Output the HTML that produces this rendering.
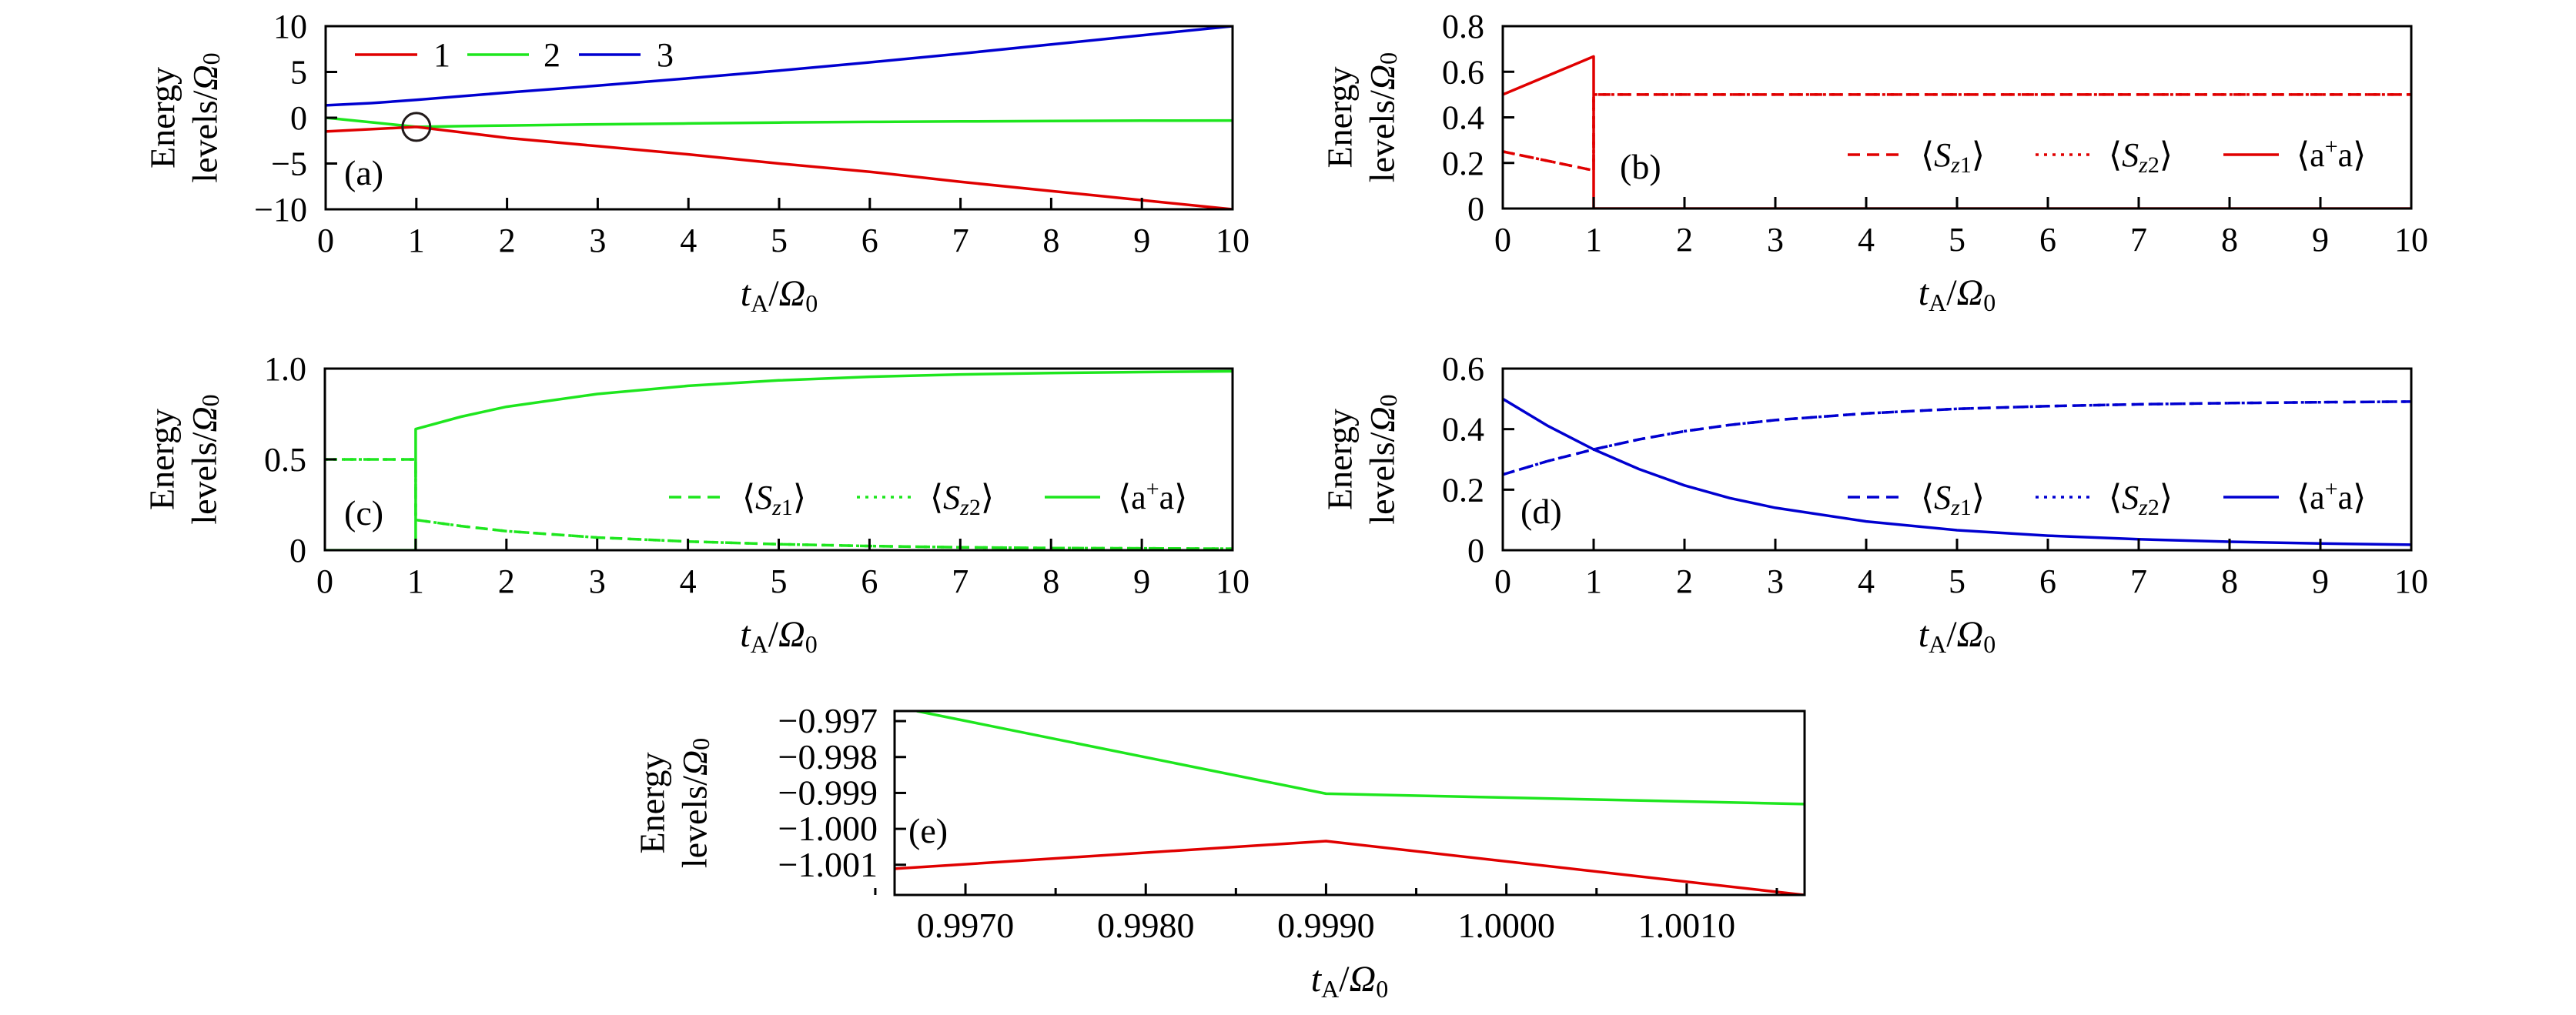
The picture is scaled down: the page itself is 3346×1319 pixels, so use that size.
<!DOCTYPE html>
<html>
<head>
<meta charset="utf-8">
<style>
  html,body{margin:0;padding:0;background:#fff;}
  svg{display:block;}
  text{font-family:"Liberation Serif","DejaVu Serif",serif;fill:#000;}
</style>
</head>
<body>
<svg id="fig" width="3346" height="1319" viewBox="0 0 3346 1319" xmlns="http://www.w3.org/2000/svg"></svg>
<script>
// ---------- Panel (a) data ----------
const aT  = [0, 0.5, 1, 1.5, 2, 3, 4, 5, 6, 7, 8, 9, 10];
const aE1 = [-1.5, -1.25, -1.0, -1.6, -2.2, -3.1, -4.0, -5.0, -5.9, -7.0, -8.0, -9.0, -10.0];
const aE2 = [0, -0.5, -1.0, -0.92, -0.85, -0.72, -0.62, -0.52, -0.45, -0.4, -0.36, -0.32, -0.3];
const aE3 = [1.35, 1.6, 1.95, 2.35, 2.75, 3.5, 4.3, 5.15, 6.05, 7.0, 8.0, 9.0, 10.0];
const aYTicks = [-10, -5, 0, 5, 10];
const aYLabels = ["\u221210", "\u22125", "0", "5", "10"];
// ---------- Panel (b) data ----------
const bT   = [0, 1, 1, 10];
const bAA  = [0.5, 0.667, 0, 0];
const bSz  = [0.25, 0.167, 0.5, 0.5];
const bYTicks = [0, 0.2, 0.4, 0.6, 0.8];
const bYLabels = ["0", "0.2", "0.4", "0.6", "0.8"];
// ---------- Panel (c) data ----------
const cT   = [0, 1, 1, 1.5, 2, 3, 4, 5, 6, 7, 8, 9, 10];
const cAA  = [0, 0, 0.667, 0.735, 0.79, 0.86, 0.905, 0.935, 0.955, 0.968, 0.976, 0.981, 0.985];
const cSz  = [0.5, 0.5, 0.167, 0.133, 0.105, 0.07, 0.048, 0.033, 0.023, 0.016, 0.012, 0.01, 0.008];
const cYTicks = [0, 0.5, 1.0];
const cYLabels = ["0", "0.5", "1.0"];
// ---------- Panel (d) data ----------
const dT   = [0, 0.5, 1, 1.5, 2, 2.5, 3, 4, 5, 6, 7, 8, 9, 10];
const dAA  = [0.5, 0.41, 0.333, 0.268, 0.214, 0.172, 0.14, 0.095, 0.066, 0.048, 0.036, 0.028, 0.022, 0.018];
const dSz  = [0.25, 0.295, 0.333, 0.366, 0.393, 0.414, 0.43, 0.452, 0.467, 0.476, 0.482, 0.486, 0.489, 0.491];
const dYTicks = [0, 0.2, 0.4, 0.6];
const dYLabels = ["0", "0.2", "0.4", "0.6"];
// ---------- Panel (e) data ----------
const eTGreen = [0.99673, 0.9990, 1.00165];
const eGreen  = [-0.99672, -0.99902, -0.99931];
const eTRed   = [0.99661, 0.9990, 1.00165];
const eRed    = [-1.00111, -1.00034, -1.00184];
const eXTicks = [0.997, 0.998, 0.999, 1.000, 1.001];
const eXLabels = ["0.9970", "0.9980", "0.9990", "1.0000", "1.0010"];
const eXMinor = [0.9965, 0.9975, 0.9985, 0.9995, 1.0005, 1.0015];
const eYTicks = [-0.997, -0.998, -0.999, -1.000, -1.001];
const eYLabels = ["\u22120.997", "\u22120.998", "\u22120.999", "\u22121.000", "\u22121.001"];
const tTicks = [0, 1, 2, 3, 4, 5, 6, 7, 8, 9, 10];
const tLabels = ["0","1","2","3","4","5","6","7","8","9","10"];

const RED = "#e00000", GREEN = "#1ee61e", BLUE = "#0000d0";
const NS = "http://www.w3.org/2000/svg";
const svg = document.getElementById("fig");

function mk(tag, attrs, parent) {
  const el = document.createElementNS(NS, tag);
  for (const k in attrs) el.setAttribute(k, attrs[k]);
  (parent || svg).appendChild(el);
  return el;
}

function makePanel(p) {
  const g = mk("g", {});
  
  
  p.g = g;
  p.sx = v => p.x0 + (v - p.xmin) / (p.xmax - p.xmin) * (p.x1 - p.x0);
  p.sy = v => p.y1 - (v - p.ymin) / (p.ymax - p.ymin) * (p.y1 - p.y0);
  const defs = mk("clipPath", {id: "clip-" + p.id}, g);
  mk("rect", {x: p.x0, y: p.y0, width: p.x1 - p.x0, height: p.y1 - p.y0}, defs);
  p.plot = mk("g", {"clip-path": "url(#clip-" + p.id + ")"}, g);
  return p;
}

function finishPanel(p) {
  const g = p.g;
  // x ticks
  p.xticks.forEach((v, i) => {
    const x = p.sx(v);
    const t = mk("line", {x1: x, x2: x, y1: p.y1, y2: p.y1 - 15, stroke: "#000", "stroke-width": 3}, g);
    
    
    const lb = mk("text", {x: x, y: p.y1 + 55, "font-size": p.fs || 44, "text-anchor": "middle"}, g);
    lb.textContent = p.xlabels[i];
    
    
  });
  (p.xminor || []).forEach(v => {
    const x = p.sx(v);
    const t = mk("line", {x1: x, x2: x, y1: p.y1, y2: p.y1 - 9, stroke: "#000", "stroke-width": 3}, g);
    
    
  });
  p.yticks.forEach((v, i) => {
    const y = p.sy(v);
    const t = mk("line", {x1: p.x0, x2: p.x0 + 15, y1: y, y2: y, stroke: "#000", "stroke-width": 3}, g);
    
    
    const lb = mk("text", {x: p.x0 - (p.ylabGap || 24), y: y + 15, "font-size": p.fs || 44, "text-anchor": "end"}, g);
    lb.textContent = p.ylabels[i];
    
    
  });
  // frame
  const fr = mk("rect", {x: p.x0, y: p.y0, width: p.x1 - p.x0, height: p.y1 - p.y0, fill: "none", stroke: "#000", "stroke-width": 3}, g);
  
  
  // y title
  const cy = (p.y0 + p.y1) / 2;
  const e1 = mk("text", {x: 0, y: 0, "font-size": 46, "text-anchor": "middle", "dominant-baseline": "central",
    transform: "translate(" + (p.x0 - p.yt1) + "," + cy + ") rotate(-90)"}, g);
  e1.textContent = "Energy";
  
  
  const e2 = mk("text", {x: 0, y: 0, "font-size": 46, "text-anchor": "middle", "dominant-baseline": "central",
    transform: "translate(" + (p.x0 - p.yt2) + "," + cy + ") rotate(-90)"}, g);
  e2.innerHTML = 'levels/<tspan font-style="italic">Ω</tspan><tspan font-size="32" dy="8">0</tspan>';
  
  
  // x title
  const xt = mk("text", {x: (p.x0 + p.x1) / 2, y: p.y1 + 125, "font-size": 48, "text-anchor": "middle"}, g);
  xt.innerHTML = '<tspan font-style="italic">t</tspan><tspan font-size="32" dy="8">A</tspan><tspan dy="-8">/</tspan><tspan font-style="italic">Ω</tspan><tspan font-size="32" dy="8">0</tspan>';
  
  
  // panel tag
  const tag = mk("text", {x: p.tagX, y: p.tagY, "font-size": 46}, g);
  tag.textContent = "(" + p.id + ")";
  
  
}

function series(p, xs, ys, color, dash, name) {
  const pts = xs.map((x, i) => p.sx(x).toFixed(1) + "," + p.sy(ys[i]).toFixed(1)).join(" ");
  const attrs = {points: pts, fill: "none", stroke: color, "stroke-width": 3.5, "stroke-linejoin": "round"};
  if (dash) attrs["stroke-dasharray"] = dash;
  const pl = mk("polyline", attrs, p.plot);
  
  
  return pl;
}

function legendEntry(g, x1, x2, y, color, dash, textHTML, tx, name) {
  const a = {x1: x1, x2: x2, y1: y, y2: y, stroke: color, "stroke-width": 3.5};
  if (dash) a["stroke-dasharray"] = dash;
  const l = mk("line", a, g);
  
  
  const t = mk("text", {x: tx, y: y + 15, "font-size": 44}, g);
  t.innerHTML = textHTML;
  
  
}

const SZ1 = '⟨<tspan font-style="italic">S</tspan><tspan font-size="30" dy="8" font-style="italic">z</tspan><tspan font-size="30">1</tspan><tspan dy="-8">⟩</tspan>';
const SZ2 = '⟨<tspan font-style="italic">S</tspan><tspan font-size="30" dy="8" font-style="italic">z</tspan><tspan font-size="30">2</tspan><tspan dy="-8">⟩</tspan>';
const AA  = '⟨a<tspan font-size="30" dy="-16">+</tspan><tspan dy="16">a⟩</tspan>';
const DASH = "16,9", DOT = "4,7";

function sLegend(p, color) {
  const R = p.x1, y = p.legY;
  legendEntry(p.g, R - 732, R - 660, y, color, DASH, SZ1, R - 637, 'legend-sz1');
  legendEntry(p.g, R - 488, R - 416, y, color, DOT, SZ2, R - 393, 'legend-sz2');
  legendEntry(p.g, R - 244, R - 172, y, color, null, AA, R - 149, 'legend-aa');
}

// ---------- Panel a ----------
const pa = makePanel({id: "a", x0: 423, x1: 1601, y0: 34, y1: 272, xmin: 0, xmax: 10, ymin: -10, ymax: 10,
  xticks: tTicks, xlabels: tLabels, yticks: aYTicks, ylabels: aYLabels, yt1: 212, yt2: 157, tagX: 447, tagY: 240});
series(pa, aT, aE3, BLUE, null, 'line-level-3');
series(pa, aT, aE2, GREEN, null, 'line-level-2');
series(pa, aT, aE1, RED, null, 'line-level-1');
const circ = mk("ellipse", {cx: pa.sx(1), cy: pa.sy(-1), rx: 18, ry: 18, fill: "none", stroke: "#221a1a", "stroke-width": 3}, pa.g);


finishPanel(pa);
legendEntry(pa.g, 461, 542, 71, RED, null, "1", 563, 'legend-1');
legendEntry(pa.g, 607, 687, 71, GREEN, null, "2", 706, 'legend-2');
legendEntry(pa.g, 752, 832, 71, BLUE, null, "3", 853, 'legend-3');

// ---------- Panel b ----------
const pb = makePanel({id: "b", x0: 1952, x1: 3132, y0: 34, y1: 271, xmin: 0, xmax: 10, ymin: 0, ymax: 0.8,
  xticks: tTicks, xlabels: tLabels, yticks: bYTicks, ylabels: bYLabels, yt1: 212, yt2: 157, tagX: 2104, tagY: 232, legY: 201});
series(pb, bT, bAA, RED, null, 'line-b-aa');
series(pb, bT, bSz, RED, DASH, 'line-b-sz1');
series(pb, bT, bSz, RED, DOT, 'line-b-sz2');
finishPanel(pb);
sLegend(pb, RED);

// ---------- Panel c ----------
const pc = makePanel({id: "c", x0: 422, x1: 1601, y0: 479, y1: 715, xmin: 0, xmax: 10, ymin: 0, ymax: 1,
  xticks: tTicks, xlabels: tLabels, yticks: cYTicks, ylabels: cYLabels, yt1: 212, yt2: 157, tagX: 447, tagY: 682, legY: 646});
series(pc, cT, cAA, GREEN, null, 'line-c-aa');
series(pc, cT, cSz, GREEN, DASH, 'line-c-sz1');
series(pc, cT, cSz, GREEN, DOT, 'line-c-sz2');
finishPanel(pc);
sLegend(pc, GREEN);

// ---------- Panel d ----------
const pd = makePanel({id: "d", x0: 1952, x1: 3132, y0: 479, y1: 715, xmin: 0, xmax: 10, ymin: 0, ymax: 0.6,
  xticks: tTicks, xlabels: tLabels, yticks: dYTicks, ylabels: dYLabels, yt1: 212, yt2: 157, tagX: 1975, tagY: 680, legY: 646});
series(pd, dT, dAA, BLUE, null, 'line-d-aa');
series(pd, dT, dSz, BLUE, DASH, 'line-d-sz1');
series(pd, dT, dSz, BLUE, DOT, 'line-d-sz2');
finishPanel(pd);
sLegend(pd, BLUE);

// ---------- Panel e ----------
const pe = makePanel({id: "e", x0: 1162, x1: 2344, y0: 924, y1: 1163, xmin: 0.996607, xmax: 1.001654, ymin: -1.00184, ymax: -0.99672,
  xticks: eXTicks, xlabels: eXLabels, xminor: eXMinor, yticks: eYTicks, ylabels: eYLabels, yt1: 315, yt2: 260,
  tagX: 1180, tagY: 1095, fs: 46, ylabGap: 22});
series(pe, eTGreen, eGreen, GREEN, null, 'line-e-level-2');
series(pe, eTRed, eRed, RED, null, 'line-e-level-1');
finishPanel(pe);
</script>
</body>
</html>
